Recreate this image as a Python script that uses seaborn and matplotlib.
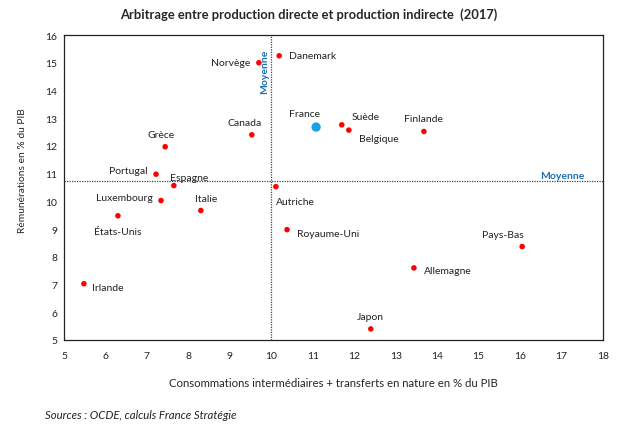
import matplotlib
matplotlib.use("Agg")
import matplotlib.pyplot as plt
import seaborn as sns
import pandas as pd

### Data
pays = ['Danemark', 'Norvège', 'Canada', 'Grèce', 'Portugal', 'Espagne', 'Luxembourg',
        'Italie', 'États-Unis', 'Irlande', 'Autriche', 'Royaume-Uni', 'France', 'Suède',
        'Belgique', 'Finlande', 'Pays-Bas', 'Allemagne', 'Japon']
conso = [10.19, 9.70, 9.53, 7.44, 7.22, 7.65, 7.34, 8.30, 6.30, 5.48, 10.11, 10.38,
         11.08, 11.70, 11.87, 13.68, 16.05, 13.44, 12.40]
remun = [15.25, 15.00, 12.40, 11.97, 10.98, 10.57, 10.03, 9.67, 9.48, 7.03, 10.53, 8.98,
         12.68, 12.76, 12.57, 12.52, 8.37, 7.60, 5.40]
moy_x = 10.0
moy_y = 10.72

# label offsets in points (dx, dy, ha)
offsets = {
    'Danemark': (7, 0, 'left'), 'Norvège': (-6, 0, 'right'), 'Canada': (-5, 9, 'center'),
    'Grèce': (-3, 9, 'center'), 'Portugal': (-6, 3, 'right'), 'Espagne': (-3, 6, 'left'),
    'Luxembourg': (-6, 2, 'right'), 'Italie': (4, 9, 'center'), 'États-Unis': (0, -11, 'center'),
    'Irlande': (6, -3, 'left'), 'Autriche': (0, -11, 'left'), 'Royaume-Uni': (7, -3, 'left'),
    'France': (-8, 10, 'center'), 'Suède': (7, 6, 'left'), 'Belgique': (7, -6, 'left'),
    'Finlande': (0, 9, 'center'), 'Pays-Bas': (-14, 9, 'center'), 'Allemagne': (7, -2, 'left'),
    'Japon': (0, 9, 'center'),
}

df = pd.DataFrame({'pays': pays, 'x': conso, 'y': remun})
df['groupe'] = ['France' if p == 'France' else 'Autre' for p in pays]

sns.set_style("white")
plt.rcParams['font.family'] = ['Lato', 'DejaVu Sans']

fig = plt.figure(figsize=(6.17, 4.27), dpi=100)
ax = fig.add_axes([64 / 617, 1 - 341 / 427, 539 / 617, 305 / 427])

sns.scatterplot(data=df[df.groupe == 'Autre'], x='x', y='y', color='#ff0000', s=16,
                edgecolor='none', ax=ax, zorder=3)
sns.scatterplot(data=df[df.groupe == 'France'], x='x', y='y', color='#1ba1e2', s=45,
                edgecolor='none', ax=ax, zorder=3)

for p, x, y in zip(pays, conso, remun):
    dx, dy, ha = offsets[p]
    ax.annotate(p, (x, y), xytext=(dx, dy), textcoords='offset points',
                ha=ha, va='center', fontsize=7.5, color='#222222')

ax.axvline(moy_x, color='#444444', linestyle=(0, (1, 1)), lw=0.9, zorder=1)
ax.axhline(moy_y, color='#444444', linestyle=(0, (1, 1)), lw=0.9, zorder=1)
ax.text(moy_x - 0.06, 15.5, 'Moyenne', rotation=90, color='#1f6fb5', fontsize=7.5,
        fontweight='bold', ha='right', va='top')
ax.text(17.55, moy_y + 0.05, 'Moyenne', color='#1f6fb5', fontsize=7.5,
        fontweight='bold', ha='right', va='bottom')

ax.set_xlim(5, 18)
ax.set_ylim(5, 16)
ax.set_xticks(range(5, 19))
ax.set_yticks(range(5, 17))
ax.tick_params(direction='in', length=3, width=0.8, labelsize=7.5, colors='#222222', pad=8)
ax.tick_params(axis='y', pad=5)
for sp in ax.spines.values():
    sp.set_color('#222222')
    sp.set_linewidth(0.9)

ax.set_xlabel('Consommations intermédiaires + transferts en nature en % du PIB',
              fontsize=8.2, labelpad=12)
ax.set_ylabel('Rémunérations en % du PIB', fontsize=7.4, labelpad=10)
ax.yaxis.set_label_coords(-0.068, 0.56)

fig.text(0.5, 0.965, 'Arbitrage entre production directe et production indirecte  (2017)',
         ha='center', va='center', fontsize=9.3, fontweight='bold')
fig.text(0.073, 0.018, 'Sources : OCDE, calculs France Stratégie', fontsize=8.2,
         style='italic', color='#222222')

fig.savefig('out.png', dpi=100)
